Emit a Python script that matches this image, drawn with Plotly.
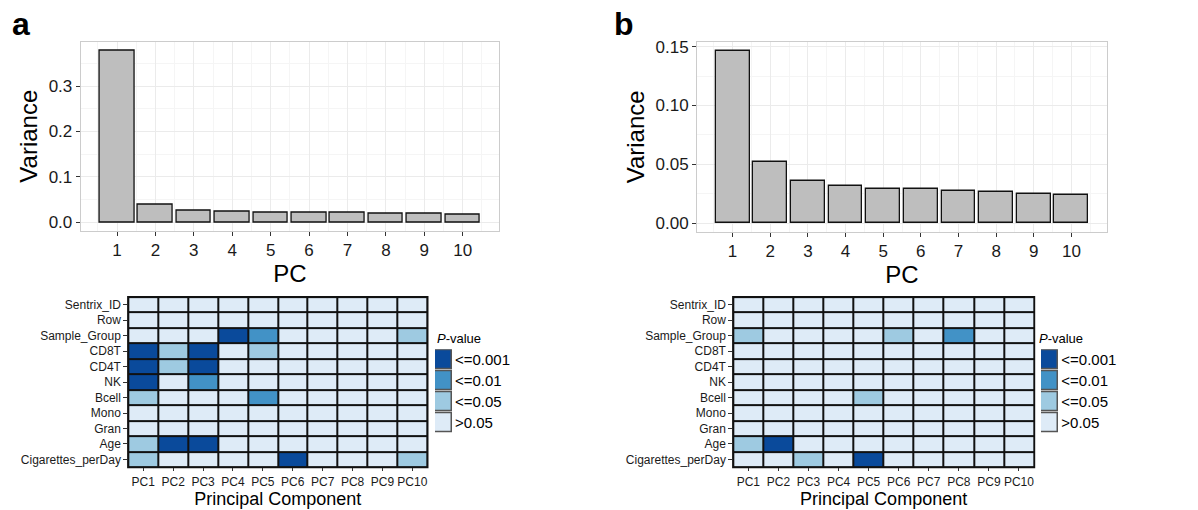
import plotly.graph_objects as go

W, H = 1198, 510
FONT = "Liberation Sans, Arial, sans-serif"

# ---------------- data ----------------
pcs = [1, 2, 3, 4, 5, 6, 7, 8, 9, 10]
variance_a = [0.379, 0.038, 0.026, 0.024, 0.022, 0.022, 0.020, 0.0195, 0.019, 0.0175]
variance_b = [0.1466, 0.0517, 0.0360, 0.0318, 0.0291, 0.0288, 0.0271, 0.0268, 0.0249, 0.0238]

pc_labels = ["PC1", "PC2", "PC3", "PC4", "PC5", "PC6", "PC7", "PC8", "PC9", "PC10"]
traits = ["Sentrix_ID", "Row", "Sample_Group", "CD8T", "CD4T", "NK", "Bcell",
          "Mono", "Gran", "Age", "Cigarettes_perDay"]

# p-value class: 0 '>0.05', 1 '<=0.05', 2 '<=0.01', 3 '<=0.001'
pclass_a = [
    [0, 0, 0, 0, 0, 0, 0, 0, 0, 0],
    [0, 0, 0, 0, 0, 0, 0, 0, 0, 0],
    [0, 0, 0, 3, 2, 0, 0, 0, 0, 1],
    [3, 1, 3, 0, 1, 0, 0, 0, 0, 0],
    [3, 1, 3, 0, 0, 0, 0, 0, 0, 0],
    [3, 0, 2, 0, 0, 0, 0, 0, 0, 0],
    [1, 0, 0, 0, 2, 0, 0, 0, 0, 0],
    [0, 0, 0, 0, 0, 0, 0, 0, 0, 0],
    [0, 0, 0, 0, 0, 0, 0, 0, 0, 0],
    [1, 3, 3, 0, 0, 0, 0, 0, 0, 0],
    [1, 0, 0, 0, 0, 3, 0, 0, 0, 1],
]
pclass_b = [
    [0, 0, 0, 0, 0, 0, 0, 0, 0, 0],
    [0, 0, 0, 0, 0, 0, 0, 0, 0, 0],
    [1, 0, 0, 0, 0, 1, 0, 2, 0, 0],
    [0, 0, 0, 0, 0, 0, 0, 0, 0, 0],
    [0, 0, 0, 0, 0, 0, 0, 0, 0, 0],
    [0, 0, 0, 0, 0, 0, 0, 0, 0, 0],
    [0, 0, 0, 0, 1, 0, 0, 0, 0, 0],
    [0, 0, 0, 0, 0, 0, 0, 0, 0, 0],
    [0, 0, 0, 0, 0, 0, 0, 0, 0, 0],
    [1, 3, 0, 0, 0, 0, 0, 0, 0, 0],
    [0, 0, 1, 0, 3, 0, 0, 0, 0, 0],
]

legend_labels = ["<=0.001", "<=0.01", "<=0.05", ">0.05"]
legend_codes = [3, 2, 1, 0]
class_colors = ["#DEEBF7", "#9ECAE1", "#4292C6", "#0A4A9B"]

# ---------------- helpers ----------------
def dx(p0, p1):
    return [p0 / W, p1 / W]

def dy(top, bottom):
    return [1 - bottom / H, 1 - top / H]

cscale = []
for i, c in enumerate(class_colors):
    cscale.append([i / 4, c])
    cscale.append([(i + 1) / 4, c])

fig = go.Figure()

# bar charts
for var, xa, ya in [(variance_a, "x", "y"), (variance_b, "x2", "y2")]:
    fig.add_trace(go.Bar(
        x=pcs, y=var, width=0.9, xaxis=xa, yaxis=ya,
        marker=dict(color="#BEBEBE", line=dict(color="#111111", width=1.3)),
        showlegend=False))

# heatmaps
for z, xa, ya in [(pclass_a, "x3", "y3"), (pclass_b, "x4", "y4")]:
    fig.add_trace(go.Heatmap(
        z=z, x=pc_labels, y=traits, xaxis=xa, yaxis=ya,
        colorscale=cscale, zmin=-0.5, zmax=3.5, showscale=False,
        xgap=2, ygap=2, hoverinfo="skip"))

# legend swatches (as small horizontal bar charts)
for xa, ya in [("x5", "y5"), ("x6", "y6")]:
    fig.add_trace(go.Bar(
        x=[1] * len(legend_labels), y=legend_labels, orientation="h",
        width=0.92, xaxis=xa, yaxis=ya, showlegend=False,
        marker=dict(color=[class_colors[c] for c in legend_codes],
                    line=dict(color="#555555", width=1.5)),
        hoverinfo="skip"))

tickfont_bar = dict(family=FONT, size=17, color="#1a1a1a")
title_bar = dict(family=FONT, size=24, color="#000000")

common_bar_x = dict(
    range=[0.055, 10.945], tickmode="linear", tick0=1, dtick=1,
    ticks="outside", ticklen=4, tickcolor="#333333", tickwidth=1,
    showgrid=True, gridcolor="#EBEBEB", gridwidth=1,
    minor=dict(tickmode="linear", tick0=0.5, dtick=1, showgrid=True,
               gridcolor="#F5F5F5", gridwidth=0.6, ticks=""),
    showline=True, mirror=True, linecolor="#CCCCCC", linewidth=1,
    zeroline=False, tickfont=tickfont_bar,
    title=dict(text="PC", font=title_bar, standoff=2),
)
common_bar_y = dict(
    ticks="outside", ticklen=4, tickcolor="#333333", tickwidth=1,
    showgrid=True, gridcolor="#EBEBEB", gridwidth=1,
    showline=True, mirror=True, linecolor="#CCCCCC", linewidth=1,
    zeroline=False, tickfont=tickfont_bar,
    title=dict(text="Variance", font=title_bar, standoff=4),
)

heat_tick = dict(family=FONT, size=12, color="#1a1a1a")
common_heat_x = dict(
    ticks="outside", ticklen=3, tickcolor="#333333", showgrid=False,
    zeroline=False, tickfont=heat_tick,
    title=dict(text="Principal Component", font=dict(family=FONT, size=18, color="#000"), standoff=2),
)
common_heat_y = dict(
    ticks="outside", ticklen=4, tickcolor="#333333", showgrid=False,
    zeroline=False, tickfont=heat_tick, autorange="reversed",
)
leg_x = dict(range=[0, 1], showticklabels=False, showgrid=False, zeroline=False, ticks="")
leg_y = dict(side="right", showgrid=False, zeroline=False, ticks="",
             autorange="reversed", ticklabelstandoff=2,
             tickfont=dict(family=FONT, size=15, color="#000"))

fig.update_layout(
    width=W, height=H, autosize=False,
    margin=dict(l=0, r=0, t=0, b=0),
    paper_bgcolor="white", plot_bgcolor="white",
    font=dict(family=FONT),
    bargap=0,
    xaxis=dict(domain=dx(80.7, 499), anchor="y", **common_bar_x),
    yaxis=dict(domain=dy(38, 229), anchor="x", range=[-0.019, 0.398],
               tickmode="linear", tick0=0, dtick=0.1, tickformat=".1f",
               minor=dict(tickmode="linear", tick0=0.05, dtick=0.1, showgrid=True,
                          gridcolor="#F5F5F5", gridwidth=0.6, ticks=""),
               **common_bar_y),
    xaxis2=dict(domain=dx(697, 1107), anchor="y2", **common_bar_x),
    yaxis2=dict(domain=dy(38.3, 230), anchor="x2", range=[-0.0073, 0.154],
                tickmode="linear", tick0=0, dtick=0.05, tickformat=".2f",
                minor=dict(tickmode="linear", tick0=0.025, dtick=0.05, showgrid=True,
                           gridcolor="#F5F5F5", gridwidth=0.6, ticks=""),
                **common_bar_y),
    xaxis3=dict(domain=dx(128.3, 427.3), anchor="y3", **common_heat_x),
    yaxis3=dict(domain=dy(296, 467.7), anchor="x3", **common_heat_y),
    xaxis4=dict(domain=dx(733.3, 1034), anchor="y4", **common_heat_x),
    yaxis4=dict(domain=dy(296, 467.7), anchor="x4", **common_heat_y),
    xaxis5=dict(domain=dx(435, 452), anchor="y5", **leg_x),
    yaxis5=dict(domain=dy(348.6, 433.4), anchor="x5", **leg_y),
    xaxis6=dict(domain=dx(1041, 1058.3), anchor="y6", **leg_x),
    yaxis6=dict(domain=dy(348.6, 433.4), anchor="x6", **leg_y),
)

# black grid behind the heatmap cells (cell borders)
for xr, yr in [("x3 domain", "y3 domain"), ("x4 domain", "y4 domain")]:
    fig.add_shape(type="rect", xref=xr, yref=yr, x0=-0.004, x1=1.004, y0=-0.007, y1=1.007,
                  fillcolor="#111111", line=dict(width=0), layer="below")

# legend titles and panel letters
for xp in [435, 1037]:
    fig.add_annotation(x=xp / W, y=1 - 338 / H, xref="paper", yref="paper",
                       text="<i>P</i>-value", showarrow=False, xanchor="left", yanchor="middle",
                       font=dict(family=FONT, size=13, color="#000"))
for txt, xp in [("a", 21), ("b", 624)]:
    fig.add_annotation(x=xp / W, y=1 - 20 / H, xref="paper", yref="paper",
                       text="<b>%s</b>" % txt, showarrow=False, xanchor="center", yanchor="middle",
                       font=dict(family=FONT, size=32, color="#000"))

fig.write_html("out.html")
